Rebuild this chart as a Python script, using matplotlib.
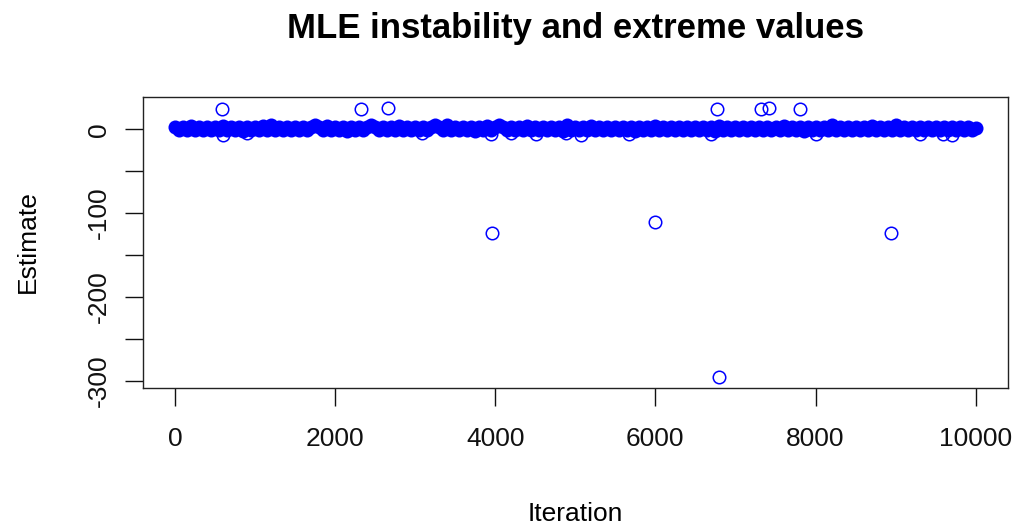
import numpy as np
import matplotlib.pyplot as plt

plt.rcParams['font.family'] = ['Liberation Sans', 'DejaVu Sans']

# dense band of estimates near zero, one value every 50 iterations
band_step = 50
band_values = [
    3.2, -0.8, 2.9, -1.2, 4.6, -0.6, 3.4, -1.0, 2.8, -1.3, 3.1, -0.7, 3.5, -1.1, 2.7, -0.9, 3.3, -1.4, 3.0, -0.5,
    2.9, -1.0, 3.6, -0.8, 4.8, -1.2, 3.1, -0.6, 2.8, -1.3, 3.4, -0.9, 3.0, -1.1, 3.2, 4.7, 2.7, -0.7, 3.5, -1.2,
    3.1, -0.9, 2.8, -1.4, 3.3, -0.6, 3.0, -1.0, 2.9, 5.0, 3.4, -1.2, 2.7, -0.8, 3.2, -1.1, 3.6, -0.5, 2.9, -1.3,
    3.0, -0.9, 3.3, -1.0, 2.8, 4.9, 3.1, -1.2, 5.1, -0.7, 3.4, -1.1, 2.9, -0.6, 3.2, -1.4, 3.0, -0.8, 3.5, -1.0,
    2.8, 4.8, 3.1, -1.3, 3.3, -0.7, 2.9, -1.1, 3.6, -0.9, 3.0, -1.2, 2.7, -0.6, 3.4, -1.0, 3.1, -1.4, 5.0, -0.8,
    3.2, -1.1, 2.9, -0.7, 3.5, -1.3, 3.0, -0.9, 2.8, -1.2, 3.3, -0.6, 3.1, -1.0, 2.7, -1.4, 3.4, -0.8, 3.0, -1.1,
    3.6, -0.9, 2.9, -1.2, 3.2, -0.7, 3.0, -1.3, 2.8, -1.0, 3.3, -0.6, 3.1, -1.1, 2.9, -1.4, 3.5, -0.8, 3.0, -1.2,
    2.7, -0.9, 3.4, -1.0, 3.1, -0.7, 2.9, -1.3, 3.2, -1.1, 3.0, -0.6, 3.6, -1.2, 2.8, -0.9, 3.3, -1.4, 3.1, -0.8,
    2.9, -1.0, 3.2, -0.7, 4.9, -1.2, 3.0, -1.1, 3.4, -0.9, 2.8, -1.3, 3.1, -0.6, 3.5, -1.0, 2.9, -1.2, 3.3, -0.8,
    5.0, -1.1, 3.0, -0.9, 3.2, -1.3, 2.8, -0.7, 3.4, -1.0, 3.1, -1.2, 2.9, -0.6, 3.3, -1.1, 3.0, -0.9, 3.2, -1.0, 1.2,
]
band_iter = np.arange(len(band_values)) * band_step

# small dips just below the band
dip_iter = [600, 900, 3080, 3950, 4200, 4510, 4890, 5070, 5670, 6690, 8010, 9300, 9590, 9710]
dip_values = [-7, -4, -4, -5, -4, -5, -4, -7, -5, -5, -5, -5, -6, -7]

# isolated extreme estimates
out_iter = [590, 2330, 2665, 6775, 7320, 7420, 7810, 3960, 5990, 8940, 6800]
out_values = [24, 24, 26, 24, 24, 26, 24, -124, -111, -124, -296]

fig = plt.figure(figsize=(10.2, 5.27), dpi=100)
ax = fig.add_axes([0.140, 0.2643, 0.848, 0.5522])

blue = '#0000FF'
# thousands of overlapping circles render as a solid band
ax.plot(band_iter, band_values, 'o', ms=9, mfc=blue, mec=blue, mew=1.1)
ax.plot(dip_iter, dip_values, 'o', ms=9, mfc='none', mec=blue, mew=1.1)
ax.plot(out_iter, out_values, 'o', ms=9, mfc='none', mec=blue, mew=1.1)

ax.set_xlim(-400, 10400)
ax.set_ylim(-308.5, 39)

ax.set_xticks([0, 2000, 4000, 6000, 8000, 10000])
ax.set_yticks([0, -50, -100, -150, -200, -250, -300])
ax.set_yticklabels(['0', '', '-100', '', '-200', '', '-300'], rotation=90, va='center')
ax.tick_params(axis='both', length=13, width=1, labelsize=19, colors='#111111', direction='out')
ax.tick_params(axis='x', pad=15)
ax.tick_params(axis='y', pad=10)
for s in ax.spines.values():
    s.set_linewidth(1)
    s.set_color('#222222')

fig.text(0.564, 0.946, 'MLE instability and extreme values', ha='center', va='center',
         fontsize=25, fontweight='bold')
fig.text(0.564, 0.025, 'Iteration', ha='center', va='center', fontsize=19)
fig.text(0.027, 0.541, 'Estimate', ha='center', va='center', fontsize=19, rotation=90)

fig.savefig('out.png', dpi=100)
